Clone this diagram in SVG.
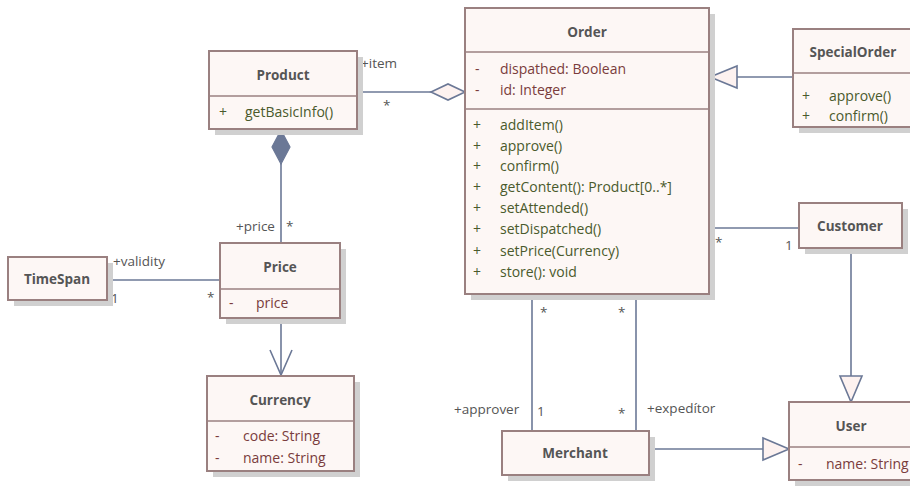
<svg xmlns="http://www.w3.org/2000/svg" width="910" height="486" viewBox="0 0 910 486">
  <defs>
    <style>
      .shadow { fill: #d0d0d0; }
      .box { fill: #fdf7f5; stroke: #9a8080; stroke-width: 2; }
      .div { stroke: #9a8080; stroke-width: 1.5; }
      .title { font-family: "Open Sans", "Liberation Sans", sans-serif; font-size: 13.5px; font-weight: bold; fill: #555555; text-anchor: middle; }
      .attr { font-family: "Open Sans", "Liberation Sans", sans-serif; font-size: 14px; fill: #7a3c3c; }
      .op { font-family: "Open Sans", "Liberation Sans", sans-serif; font-size: 14px; fill: #4a5a2c; }
      .lbl { font-family: "Open Sans", "Liberation Sans", sans-serif; font-size: 13.5px; fill: #555555; }
      .conn { stroke: #6b7896; stroke-width: 1.6; fill: none; }
      .hollow { fill: #fdf2f0; stroke: #6b7896; stroke-width: 1.6; }
      .filled { fill: #6b7896; stroke: #6b7896; stroke-width: 1.2; }
    </style>
  </defs>
  <rect width="910" height="486" fill="#ffffff"/>

  <!-- connectors -->
  <g id="connectors">
    <!-- Product <>- Order (aggregation) -->
    <line class="conn" x1="357" y1="92" x2="431" y2="92"/>
    <polygon class="hollow" points="465,92 448,84 431,92 448,100"/>
    <text class="lbl" x="361" y="68">+item</text>
    <text class="lbl" x="383" y="110">*</text>
    <!-- Product <#>- Price (composition) -->
    <line class="conn" x1="281" y1="163" x2="281" y2="243"/>
    <polygon class="filled" points="281,130 290,147 281,164 272,147"/>
    <text class="lbl" x="236" y="231">+price</text>
    <text class="lbl" x="286" y="231">*</text>
    <!-- TimeSpan - Price -->
    <line class="conn" x1="107" y1="280" x2="220" y2="280"/>
    <text class="lbl" x="113" y="266">+validity</text>
    <text class="lbl" x="111" y="303">1</text>
    <text class="lbl" x="207" y="302">*</text>
    <!-- Price -> Currency -->
    <line class="conn" x1="281" y1="318" x2="281" y2="375"/>
    <polyline class="conn" points="270,350 281,375 292,350"/>
    <!-- SpecialOrder -|> Order -->
    <line class="conn" x1="793" y1="77" x2="737" y2="77"/>
    <polygon class="hollow" points="710,77 737,66 737,88"/>
    <!-- Order - Customer -->
    <line class="conn" x1="709" y1="228" x2="799" y2="228"/>
    <text class="lbl" x="715" y="247">*</text>
    <text class="lbl" x="785" y="250">1</text>
    <!-- Customer -|> User -->
    <line class="conn" x1="851" y1="248" x2="851" y2="376"/>
    <polygon class="hollow" points="851,402 840,376 862,376"/>
    <!-- Order - Merchant (approver) -->
    <line class="conn" x1="532" y1="294" x2="532" y2="431"/>
    <text class="lbl" x="540" y="317">*</text>
    <text class="lbl" x="454" y="414">+approver</text>
    <text class="lbl" x="537" y="416">1</text>
    <!-- Order - Merchant (expeditor) -->
    <line class="conn" x1="636" y1="294" x2="636" y2="431"/>
    <text class="lbl" x="618" y="317">*</text>
    <text class="lbl" x="618" y="418">*</text>
    <text class="lbl" x="647" y="413">+expedítor</text>
    <!-- Merchant -|> User -->
    <line class="conn" x1="649" y1="449" x2="763" y2="449"/>
    <polygon class="hollow" points="789,449 763,438 763,460"/>
  </g>

  <!-- Product -->
  <g id="product">
    <rect class="shadow" x="215" y="57" width="148" height="78"/>
    <rect class="box" x="209" y="51" width="148" height="78"/>
    <line class="div" x1="209" y1="96" x2="357" y2="96"/>
    <text class="title" x="283" y="80">Product</text>
    <text class="op" x="219" y="117">+</text>
    <text class="op" x="245" y="117">getBasicInfo()</text>
  </g>

  <!-- Order -->
  <g id="order">
    <rect class="shadow" x="471" y="14" width="244" height="286"/>
    <rect class="box" x="465" y="8" width="244" height="286"/>
    <line class="div" x1="465" y1="52" x2="709" y2="52"/>
    <line class="div" x1="465" y1="109" x2="709" y2="109"/>
    <text class="title" x="587" y="37">Order</text>
    <text class="attr" x="475" y="74">-</text>
    <text class="attr" x="500" y="74">dispathed: Boolean</text>
    <text class="attr" x="475" y="95">-</text>
    <text class="attr" x="500" y="95">id: Integer</text>
    <text class="op" x="473" y="130">+</text>
    <text class="op" x="500" y="130">addItem()</text>
    <text class="op" x="473" y="151">+</text>
    <text class="op" x="500" y="151">approve()</text>
    <text class="op" x="473" y="171">+</text>
    <text class="op" x="500" y="171">confirm()</text>
    <text class="op" x="473" y="192">+</text>
    <text class="op" x="500" y="192">getContent(): Product[0..*]</text>
    <text class="op" x="473" y="213">+</text>
    <text class="op" x="500" y="213">setAttended()</text>
    <text class="op" x="473" y="234">+</text>
    <text class="op" x="500" y="234">setDispatched()</text>
    <text class="op" x="473" y="256">+</text>
    <text class="op" x="500" y="256">setPrice(Currency)</text>
    <text class="op" x="473" y="277">+</text>
    <text class="op" x="500" y="277">store(): void</text>
  </g>

  <!-- SpecialOrder -->
  <g id="specialorder">
    <rect class="shadow" x="799" y="35" width="120" height="98"/>
    <rect class="box" x="793" y="29" width="125" height="98"/>
    <line class="div" x1="793" y1="73" x2="918" y2="73"/>
    <text class="title" x="853" y="57">SpecialOrder</text>
    <text class="op" x="802" y="101">+</text>
    <text class="op" x="829" y="101">approve()</text>
    <text class="op" x="802" y="121">+</text>
    <text class="op" x="829" y="121">confirm()</text>
  </g>

  <!-- Customer -->
  <g id="customer">
    <rect class="shadow" x="805" y="209" width="103" height="45"/>
    <rect class="box" x="799" y="203" width="103" height="45"/>
    <text class="title" x="850" y="231">Customer</text>
  </g>

  <!-- TimeSpan -->
  <g id="timespan">
    <rect class="shadow" x="14" y="263" width="99" height="43"/>
    <rect class="box" x="8" y="257" width="99" height="43"/>
    <text class="title" x="57" y="284">TimeSpan</text>
  </g>

  <!-- Price -->
  <g id="price">
    <rect class="shadow" x="226" y="249" width="120" height="75"/>
    <rect class="box" x="220" y="243" width="120" height="75"/>
    <line class="div" x1="220" y1="289" x2="340" y2="289"/>
    <text class="title" x="280" y="272">Price</text>
    <text class="attr" x="229" y="308">-</text>
    <text class="attr" x="256" y="308">price</text>
  </g>

  <!-- Currency -->
  <g id="currency">
    <rect class="shadow" x="213" y="382" width="147" height="95"/>
    <rect class="box" x="207" y="376" width="147" height="95"/>
    <line class="div" x1="207" y1="421" x2="354" y2="421"/>
    <text class="title" x="280" y="405">Currency</text>
    <text class="attr" x="215" y="441">-</text>
    <text class="attr" x="243" y="441">code: String</text>
    <text class="attr" x="215" y="463">-</text>
    <text class="attr" x="243" y="463">name: String</text>
  </g>

  <!-- Merchant -->
  <g id="merchant">
    <rect class="shadow" x="508" y="437" width="147" height="44"/>
    <rect class="box" x="502" y="431" width="147" height="44"/>
    <text class="title" x="575" y="458">Merchant</text>
  </g>

  <!-- User -->
  <g id="user">
    <rect class="shadow" x="795" y="408" width="120" height="78"/>
    <rect class="box" x="789" y="402" width="125" height="78"/>
    <line class="div" x1="789" y1="447" x2="914" y2="447"/>
    <text class="title" x="851" y="431">User</text>
    <text class="attr" x="798" y="469">-</text>
    <text class="attr" x="826" y="469">name: String</text>
  </g>
</svg>
